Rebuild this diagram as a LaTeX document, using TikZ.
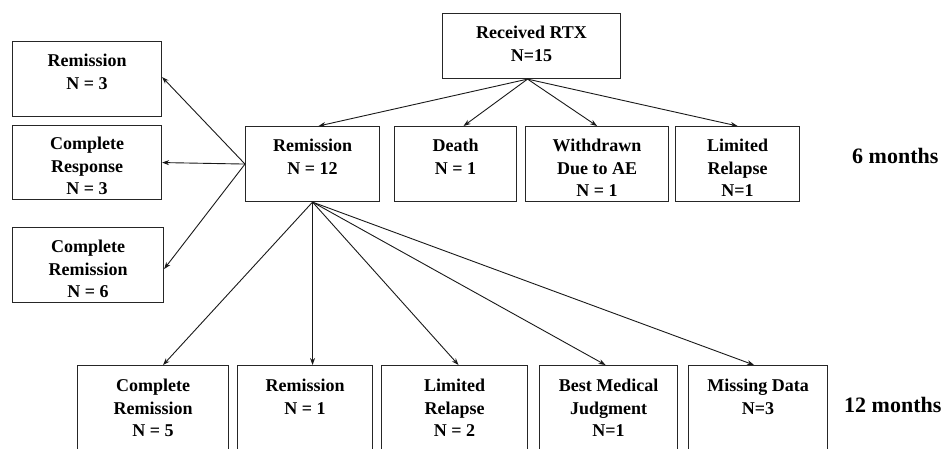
\documentclass[tikz,border=0pt]{standalone}
\usepackage{fontspec}
\setmainfont{Liberation Serif}
\usetikzlibrary{arrows.meta}
\begin{document}
\begin{tikzpicture}[x=1pt,y=-1pt,
  box/.style={draw=black!85, line width=1.1pt, anchor=north west, inner sep=0pt},
  txt/.style={anchor=north, align=center, inner sep=0pt, font=\fontsize{18}{22.5}\selectfont\bfseries},
  mon/.style={anchor=west, inner sep=0pt, font=\fontsize{22}{24}\selectfont\bfseries},
  arr/.style={draw=black!90, line width=0.9pt, -{Stealth[length=7pt,width=5pt]}}]
\useasboundingbox (0,0) rectangle (944,448);
\clip (0,0) rectangle (944,448);
% top
\node[box, minimum width=178pt, minimum height=65pt] (rtx) at (442,13) {};
\node[txt] (rtxT) at ([yshift=-13pt]rtx.north) {Received RTX\\N=15};
% 6 months row
\node[box, minimum width=134pt, minimum height=75pt] (rem) at (245,126) {};
\node[txt] (remT) at ([yshift=-13pt]rem.north) {Remission\\N = 12};
\node[box, minimum width=122pt, minimum height=75pt] (death) at (394,126) {};
\node[txt] (deathT) at ([yshift=-13pt]death.north) {Death\\N = 1};
\node[box, minimum width=143pt, minimum height=75pt] (wd) at (525,126) {};
\node[txt] (wdT) at ([yshift=-13pt]wd.north) {Withdrawn\\Due to AE\\N = 1};
\node[box, minimum width=124pt, minimum height=75pt] (lr) at (675,126) {};
\node[txt] (lrT) at ([yshift=-13pt]lr.north) {Limited\\Relapse\\N=1};
\node[mon] (m6) at (852,156) {6 months};
% left boxes
\node[box, minimum width=149pt, minimum height=75pt] (r3) at (12,41) {};
\node[txt] (r3T) at ([yshift=-13pt]r3.north) {Remission\\N = 3};
\node[box, minimum width=149pt, minimum height=74pt] (cr) at (12,125) {};
\node[txt] (crT) at ([yshift=-12pt]cr.north) {Complete\\Response\\N = 3};
\node[box, minimum width=151pt, minimum height=75pt] (crem) at (12,227) {};
\node[txt] (cremT) at ([yshift=-13pt]crem.north) {Complete\\Remission\\N = 6};
% bottom row
\node[box, minimum width=151pt, minimum height=110pt] (b1) at (77,365) {};
\node[txt] (b1T) at ([yshift=-14pt]b1.north) {Complete\\Remission\\N = 5};
\node[box, minimum width=135pt, minimum height=110pt] (b2) at (237,365) {};
\node[txt] (b2T) at ([yshift=-14pt]b2.north) {Remission\\N = 1};
\node[box, minimum width=146pt, minimum height=110pt] (b3) at (381,365) {};
\node[txt] (b3T) at ([yshift=-14pt]b3.north) {Limited\\Relapse\\N = 2};
\node[box, minimum width=138pt, minimum height=110pt] (b4) at (539,365) {};
\node[txt] (b4T) at ([yshift=-14pt]b4.north) {Best Medical\\Judgment\\N=1};
\node[box, minimum width=139pt, minimum height=110pt] (b5) at (688,365) {};
\node[txt] (b5T) at ([yshift=-14pt]b5.north) {Missing Data\\N=3};
\node[mon] (m12) at (844,405) {12 months};
% arrows from top
\coordinate (rtxs) at ([xshift=-4pt]rtx.south);
\draw[arr] (rtxs) -- ([xshift=6pt]rem.north);
\draw[arr] (rtxs) -- ([xshift=8pt]death.north);
\draw[arr] (rtxs) -- (wd.north);
\draw[arr] (rtxs) -- (lr.north);
% arrows to left
\draw[arr] (rem.west) -- ([yshift=2pt]r3.east);
\draw[arr] (rem.west) -- (cr.east);
\draw[arr] (rem.west) -- ([yshift=-4pt]crem.east);
% arrows to bottom
\draw[arr] (rem.south) -- ([xshift=10pt]b1.north);
\draw[arr] (rem.south) -- (rem.south |- b2.north);
\draw[arr] (rem.south) -- ([xshift=4pt]b3.north);
\draw[arr] (rem.south) -- ([xshift=-3pt]b4.north);
\draw[arr] (rem.south) -- ([xshift=-4pt]b5.north);
\end{tikzpicture}
\end{document}
